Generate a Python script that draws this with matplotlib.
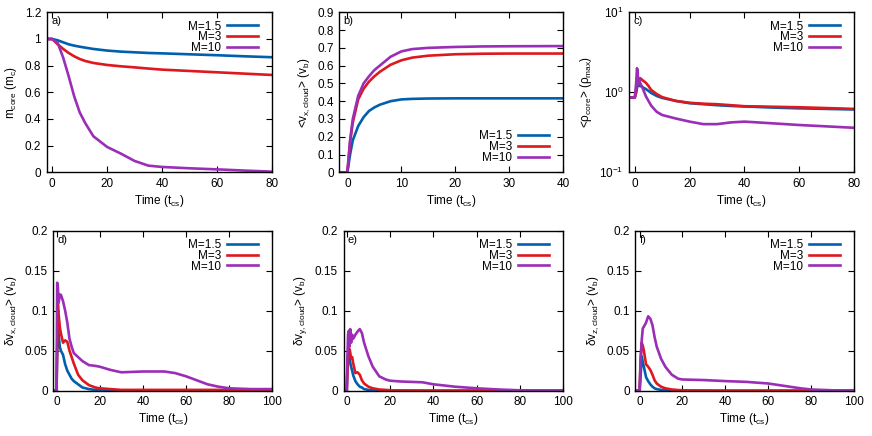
import matplotlib
matplotlib.use("Agg")
import matplotlib.pyplot as plt
from matplotlib.ticker import NullLocator

plt.rcParams['font.family'] = ['Liberation Sans', 'DejaVu Sans']
plt.rcParams['font.size'] = 8.5

BLUE = '#0060ad'
RED = '#dd181f'
PURPLE = '#9b2eb6'
labels = ['M=1.5', 'M=3', 'M=10']

# a) core mass
t_a = [-2, 0, 2, 4, 6, 8, 10, 12, 15, 20, 25, 30, 35, 40, 50, 60, 70, 80]
m15_a = [1, 1, 0.99, 0.975, 0.96, 0.95, 0.942, 0.935, 0.925, 0.913, 0.905, 0.9, 0.895,
         0.892, 0.885, 0.878, 0.87, 0.863]
m3_a = [1, 1, 0.96, 0.925, 0.895, 0.87, 0.85, 0.835, 0.82, 0.805, 0.795, 0.787, 0.778,
        0.77, 0.76, 0.75, 0.74, 0.73]
m10_a = [1, 1, 0.97, 0.86, 0.72, 0.57, 0.45, 0.37, 0.27, 0.19, 0.14, 0.085, 0.05,
         0.04, 0.03, 0.022, 0.013, 0.005]

# b) cloud x velocity
t_b = [-1.5, 0, 0.5, 1, 2, 3, 4, 5, 6, 8, 10, 12, 15, 20, 25, 30, 40]
m15_b = [0, 0, 0.1, 0.18, 0.26, 0.31, 0.345, 0.365, 0.38, 0.4, 0.41, 0.413, 0.415,
         0.416, 0.416, 0.416, 0.416]
m3_b = [0, 0, 0.17, 0.28, 0.41, 0.47, 0.51, 0.54, 0.565, 0.605, 0.63, 0.645, 0.656,
        0.664, 0.667, 0.668, 0.668]
m10_b = [0, 0, 0.18, 0.3, 0.43, 0.5, 0.54, 0.575, 0.6, 0.65, 0.68, 0.693, 0.7,
         0.705, 0.708, 0.709, 0.71]

# c) core density
t_c = [-2, 0, 0.5, 0.8, 1.0, 1.3, 1.6, 2, 2.5, 3, 4, 5, 6, 8, 10, 15, 20, 25, 30, 35,
       40, 50, 60, 70, 80]
m15_c = [0.86, 0.86, 1.0, 1.15, 1.25, 1.25, 1.2, 1.2, 1.18, 1.15, 1.1, 1.04, 0.98, 0.9,
         0.85, 0.78, 0.73, 0.71, 0.69, 0.675, 0.665, 0.645, 0.63, 0.62, 0.61]
m3_c = [0.86, 0.86, 1.0, 1.2, 1.3, 1.35, 1.4, 1.5, 1.45, 1.4, 1.32, 1.2, 1.07, 0.95,
        0.87, 0.78, 0.74, 0.72, 0.71, 0.69, 0.67, 0.66, 0.65, 0.635, 0.62]
m10_c = [0.86, 0.86, 1.3, 2.0, 1.9, 1.25, 1.5, 1.3, 1.2, 1.1, 0.9, 0.78, 0.68, 0.57,
         0.52, 0.47, 0.43, 0.40, 0.40, 0.42, 0.43, 0.41, 0.39, 0.375, 0.36]

# d) x velocity dispersion
t_d = [-2, 0, 0.3, 0.6, 1, 1.5, 2, 3, 4, 5, 6, 7, 8, 10, 12, 15, 18, 20, 25, 30, 40,
       50, 55, 60, 65, 70, 75, 80, 90, 100]
m15_d = [0, 0, 0.05, 0.085, 0.07, 0.055, 0.05, 0.045, 0.033, 0.025, 0.02, 0.015, 0.012,
         0.008, 0.004, 0.002, 0.001, 0.0005, 0.0005, 0.0005, 0.0005, 0.0005, 0.0005,
         0.0005, 0.0005, 0.0005, 0.0005, 0.0005, 0.0005, 0.0005]
m3_d = [0, 0, 0.05, 0.11, 0.095, 0.08, 0.072, 0.06, 0.063, 0.061, 0.05, 0.042, 0.034,
        0.02, 0.013, 0.007, 0.004, 0.003, 0.002, 0.001, 0.001, 0.001, 0.001, 0.001,
        0.001, 0.001, 0.001, 0.001, 0.001, 0.001]
m10_d = [0, 0, 0.135, 0.13, 0.11, 0.12, 0.12, 0.112, 0.1, 0.085, 0.065, 0.055, 0.047,
         0.042, 0.037, 0.032, 0.031, 0.03, 0.026, 0.023, 0.024, 0.024, 0.022, 0.018,
         0.013, 0.008, 0.005, 0.003, 0.002, 0.002]

# e) y velocity dispersion
t_e = [-2, 0, 0.3, 0.6, 1, 1.3, 1.6, 2, 2.5, 3, 4, 5, 6, 7, 8, 10, 12, 15, 18, 20, 25,
       30, 35, 40, 50, 60, 70, 80, 90, 100]
m15_e = [0, 0, 0.03, 0.045, 0.049, 0.04, 0.035, 0.03, 0.025, 0.019, 0.012, 0.008, 0.005,
         0.004, 0.002, 0.001, 0.0005, 0.0002, 0, 0, 0, 0, 0, 0, 0, 0, 0, 0, 0, 0]
m3_e = [0, 0, 0.02, 0.04, 0.05, 0.052, 0.048, 0.04, 0.042, 0.034, 0.022, 0.023, 0.02,
        0.013, 0.009, 0.005, 0.003, 0.0015, 0.001, 0.0005, 0.0003, 0.0002, 0.0001, 0,
        0, 0, 0, 0, 0, 0]
m10_e = [0, 0, 0.04, 0.07, 0.075, 0.055, 0.077, 0.06, 0.07, 0.065, 0.07, 0.074, 0.077,
         0.072, 0.06, 0.043, 0.03, 0.018, 0.014, 0.0125, 0.0115, 0.011, 0.0105, 0.008,
         0.005, 0.003, 0.0015, 0.0005, 0.0002, 0]

# f) z velocity dispersion
t_f = [-2, 0, 0.5, 1, 1.5, 2, 3, 4, 5, 6, 7, 8, 10, 12, 15, 18, 20, 30, 40, 50, 55, 60,
       65, 70, 75, 80, 90, 100]
m15_f = [0, 0, 0.02, 0.043, 0.035, 0.03, 0.017, 0.012, 0.008, 0.005, 0.003, 0.002,
         0.001, 0.0005, 0, 0, 0, 0, 0, 0, 0, 0, 0, 0, 0, 0, 0, 0]
m3_f = [0, 0, 0.04, 0.06, 0.056, 0.05, 0.033, 0.03, 0.026, 0.02, 0.013, 0.009, 0.005,
        0.003, 0.0015, 0.0008, 0.0005, 0.0002, 0, 0, 0, 0, 0, 0, 0, 0, 0, 0]
m10_f = [0, 0, 0.04, 0.063, 0.078, 0.08, 0.085, 0.093, 0.09, 0.082, 0.067, 0.055, 0.04,
         0.03, 0.02, 0.015, 0.014, 0.0133, 0.012, 0.011, 0.01, 0.009, 0.007, 0.005,
         0.003, 0.0015, 0.0005, 0]

yt_a = [0, 0.2, 0.4, 0.6, 0.8, 1, 1.2]
ytl_a = ['0', '0.2', '0.4', '0.6', '0.8', '1', '1.2']
yt_b = [0, 0.1, 0.2, 0.3, 0.4, 0.5, 0.6, 0.7, 0.8, 0.9]
ytl_b = ['0', '0.1', '0.2', '0.3', '0.4', '0.5', '0.6', '0.7', '0.8', '0.9']
yt_d = [0, 0.05, 0.1, 0.15, 0.2]
ytl_d = ['0', '0.05', '0.1', '0.15', '0.2']

sub = r'$_{\mathregular{%s}}$'
xlab = 'Time (t' + sub % 'cs' + ')'

W, H = 872.0, 436.0
# pixel boxes: left, right, top, bottom
boxes = [(46.7, 272, 12.3, 172.3), (339.3, 563.3, 12.3, 172.3), (629.3, 854, 12.3, 172.3),
         (53.3, 272.3, 230.7, 390.7), (343.5, 563.3, 230.7, 390.7), (635.3, 854, 230.7, 390.7)]

panels = [
    ('a)', t_a, [m15_a, m3_a, m10_a], (-2, 80), range(0, 81, 20), (0, 1.2), yt_a, ytl_a,
     'm' + sub % 'core' + ' (m' + sub % 'c' + ')', 'upper right'),
    ('b)', t_b, [m15_b, m3_b, m10_b], (-1.5, 40), range(0, 41, 10), (0, 0.9), yt_b, ytl_b,
     '<v' + sub % 'x,cloud' + '> (v' + sub % 'b' + ')', 'lower right'),
    ('c)', t_c, [m15_c, m3_c, m10_c], (-2, 80), range(0, 81, 20), (0.1, 10), None, None,
     '<ρ' + sub % 'core' + '> (ρ' + sub % 'max' + ')', 'upper right'),
    ('d)', t_d, [m15_d, m3_d, m10_d], (-1.5, 100), range(0, 101, 20), (0, 0.2), yt_d, ytl_d,
     'δv' + sub % 'x,cloud' + '> (v' + sub % 'b' + ')', 'upper right'),
    ('e)', t_e, [m15_e, m3_e, m10_e], (-1.5, 100), range(0, 101, 20), (0, 0.2), yt_d, ytl_d,
     'δv' + sub % 'y,cloud' + '> (v' + sub % 'b' + ')', 'upper right'),
    ('f)', t_f, [m15_f, m3_f, m10_f], (-2, 100), range(0, 101, 20), (0, 0.2), yt_d, ytl_d,
     'δv' + sub % 'z,cloud' + '> (v' + sub % 'b' + ')', 'upper right'),
]

fig = plt.figure(figsize=(8.72, 4.36), dpi=100)

for (tag, t, ys, xl, xt, yl, yt, ytl, ylab, loc), (l, r, tp, b) in zip(panels, boxes):
    ax = fig.add_axes([l / W, (H - b) / H, (r - l) / W, (b - tp) / H])
    for y, c, lab in zip(ys, [BLUE, RED, PURPLE], labels):
        ax.plot(t, y, color=c, lw=1.9, label=lab)
    if tag == 'c)':
        ax.set_yscale('log')
        ax.yaxis.set_minor_locator(NullLocator())
    else:
        ax.set_yticks(yt)
        ax.set_yticklabels(ytl)
    ax.set_xlim(*xl)
    ax.set_ylim(*yl)
    ax.set_xticks(list(xt))
    ax.tick_params(direction='in', top=True, right=True, length=4, width=0.8, pad=4)
    for s in ax.spines.values():
        s.set_linewidth(1.0)
    ax.set_xlabel(xlab, labelpad=2)
    ax.set_ylabel(ylab, labelpad=4)
    ax.text(0.02, 0.975, tag, transform=ax.transAxes, va='top', ha='left', fontsize=8)
    # gnuplot style key: text right-aligned, sample line after it
    anchor_x = 1 - 6.0 / (r - l)
    anchor = (anchor_x, 1) if loc == 'upper right' else (anchor_x, 0)
    ax.legend(loc=loc, bbox_to_anchor=anchor, frameon=False, markerfirst=False,
              handlelength=2.6, handletextpad=0.5, labelspacing=-0.1,
              borderaxespad=0.4, borderpad=0.3)

fig.savefig('out.png', dpi=100)
